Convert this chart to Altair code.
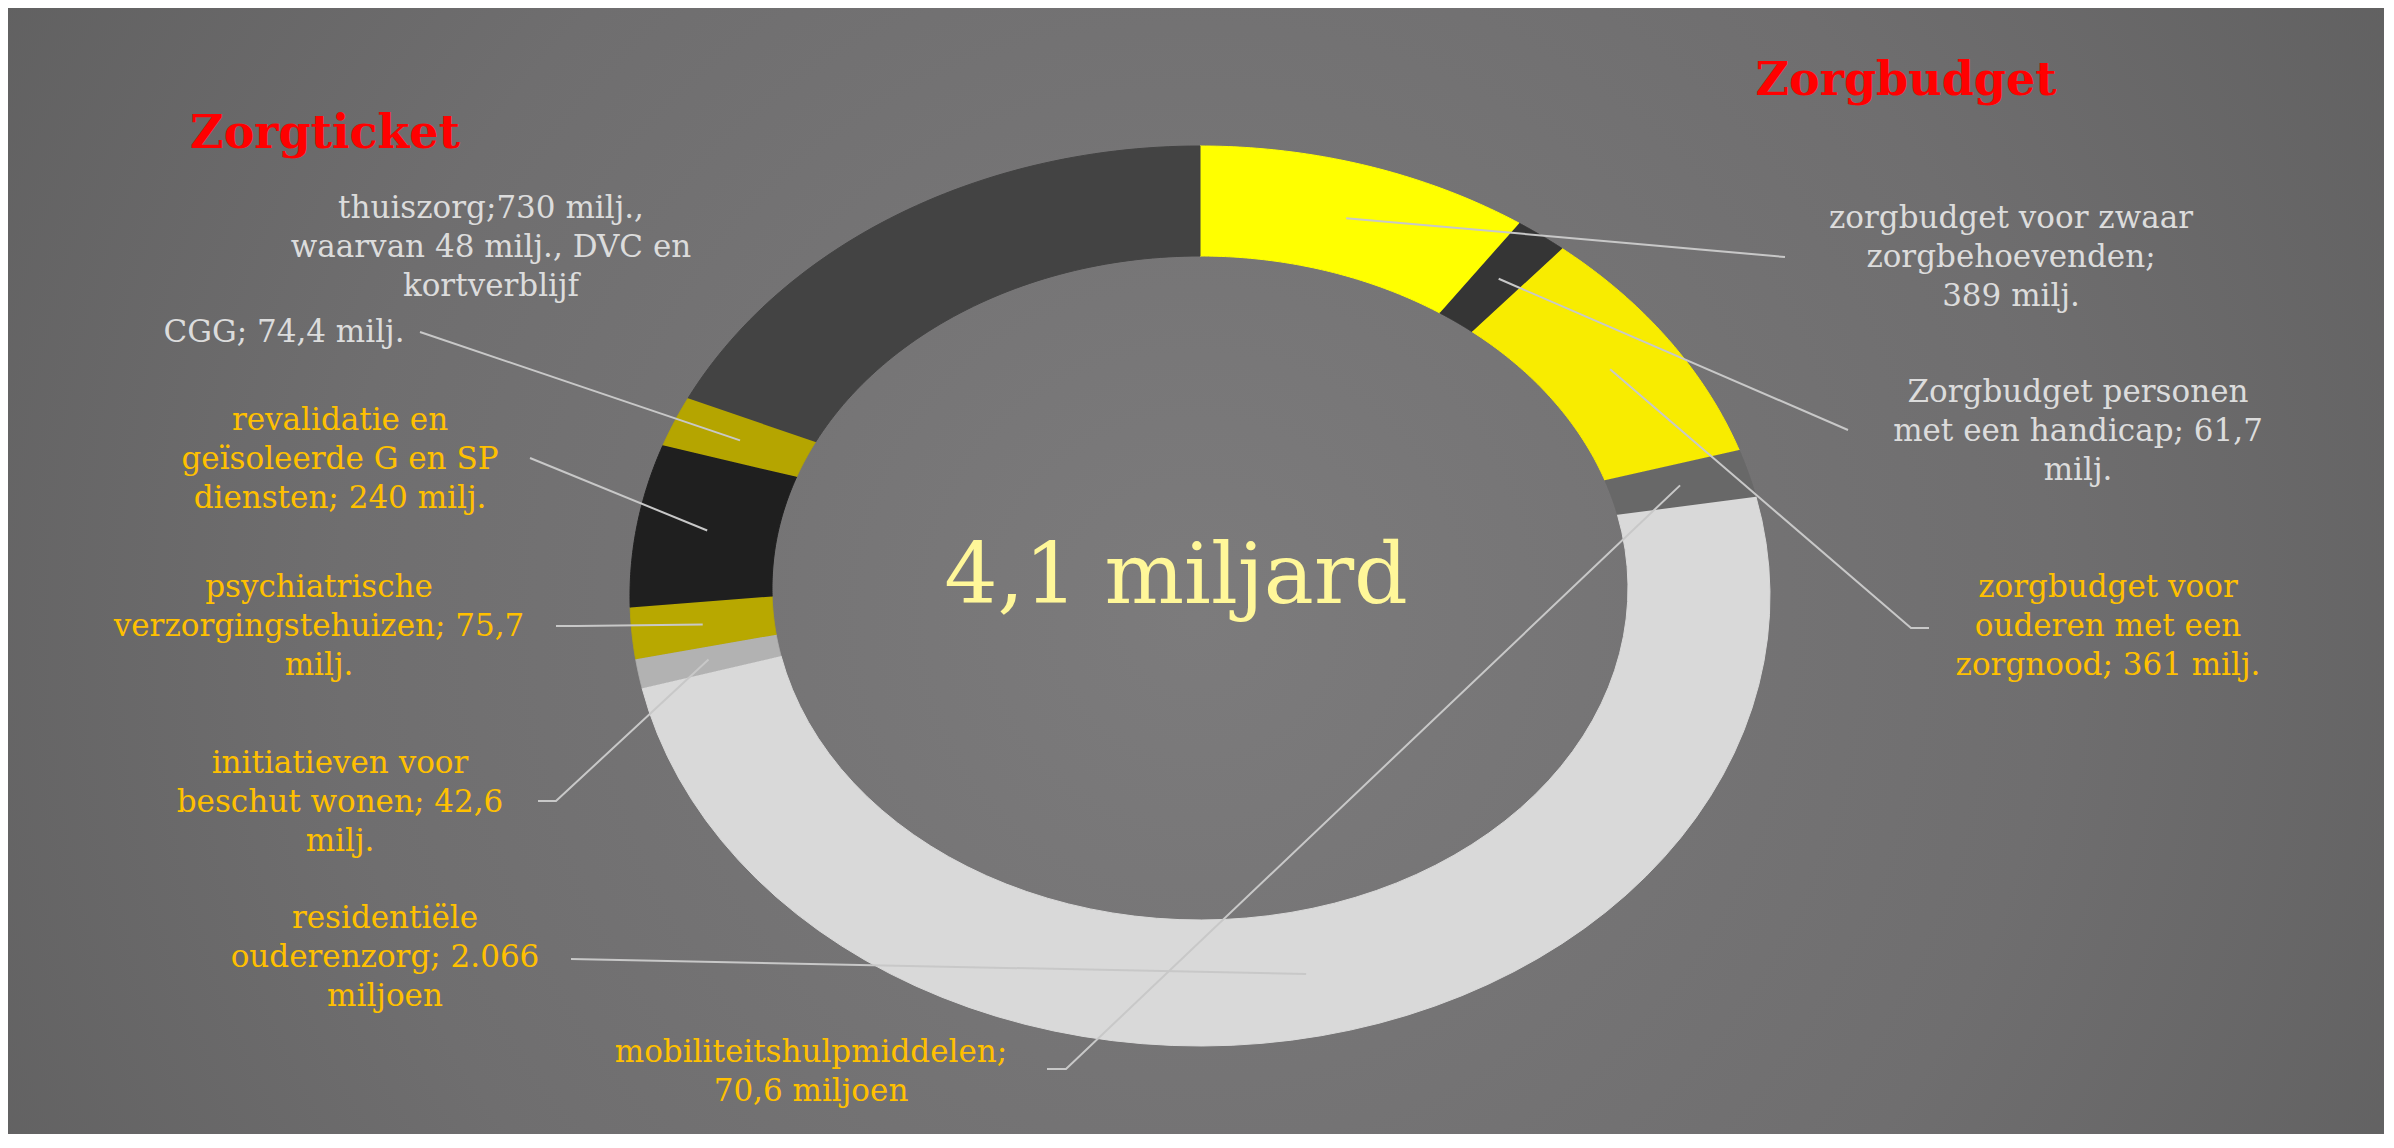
import altair as alt
import pandas as pd

# ---------------- data ----------------
CATEGORIES = ["zwaar", "handicap", "zorgnood", "mobiliteit", "residentieel",
              "beschut", "psychiatrisch", "revalidatie", "cgg", "thuiszorg"]
VALUES = [389, 61.7, 361, 70.6, 2066, 42.6, 75.7, 240, 74.4, 730]
LABELS = [
    "zorgbudget voor zwaar\nzorgbehoevenden;\n389 milj.",
    "Zorgbudget personen\nmet een handicap; 61,7\nmilj.",
    "zorgbudget voor\nouderen met een\nzorgnood; 361 milj.",
    "mobiliteitshulpmiddelen;\n70,6 miljoen",
    "residentiële\nouderenzorg; 2.066\nmiljoen",
    "initiatieven voor\nbeschut wonen; 42,6\nmilj.",
    "psychiatrische\nverzorgingstehuizen; 75,7\nmilj.",
    "revalidatie en\ngeïsoleerde G en SP\ndiensten; 240 milj.",
    "CGG; 74,4 milj.",
    "thuiszorg;730 milj.,\nwaarvan 48 milj., DVC en\nkortverblijf",
]
GROUP_TITLES = ["Zorgticket", "Zorgbudget"]

# ---------------- styles / layout ----------------
SEG_COLORS = ["#ffff00", "#353535", "#f8ec00", "#686868", "#d9d9d9",
              "#b2b2b2", "#b8a800", "#1f1f1f", "#b5a500", "#434343"]
GRAY_TXT = "#dcdcdc"
GOLD_TXT = "#ffc000"
LABEL_COLORS = [GRAY_TXT, GRAY_TXT, GOLD_TXT, GOLD_TXT, GOLD_TXT,
                GOLD_TXT, GOLD_TXT, GOLD_TXT, GRAY_TXT, GRAY_TXT]
LABEL_X = [2011, 2078, 2108, 811, 385, 340, 319, 340, 284, 491]
LABEL_Y = [228, 402, 597, 1062, 928, 773, 597, 430, 342, 218]
LEADER_X = [1785, 1848, 1929, 1047, 571, 538, 556, 530, 420, None]
LEADER_Y = [257, 430, 628, 1069, 959, 801, 626, 458, 332, None]
ELBOW_X = [1785, 1848, 1911, 1066, 571, 556, 577, 530, 420, None]
TITLE_X = [325, 1906]
TITLE_Y = [148, 95]

W, H = 2376, 1126
X0, Y0 = 8, 8
CX = 1200
CYO, RXO, RYO = 596, 570, 450   # outer edge of the ring
CYI, RXI, RYI = 588, 428, 332   # inner edge of the ring
CYM, RXM, RYM = 592, 499, 391   # middle of the ring (leader ends)
N = 60

df = pd.DataFrame({
    "cat": CATEGORIES, "value": VALUES, "order": list(range(len(VALUES))),
    "label": LABELS, "tcolor": LABEL_COLORS,
    "lab_x": LABEL_X, "lab_y": LABEL_Y,
    "lx": LEADER_X, "ly": LEADER_Y, "ex": ELBOW_X,
})
tdf = pd.DataFrame({"title": GROUP_TITLES, "tx": TITLE_X, "ty": TITLE_Y})

xs = alt.Scale(domain=[X0, X0 + W], nice=False, zero=False)
ys = alt.Scale(domain=[Y0, Y0 + H], nice=False, zero=False, reverse=True)
seg_scale = alt.Scale(domain=CATEGORIES, range=SEG_COLORS)

# background
bg = alt.Chart(pd.DataFrame({"z": [0]})).mark_rect(
    fill=alt.Gradient(
        gradient="radial",
        stops=[alt.GradientStop(offset=0, color="#7c7b7c"),
               alt.GradientStop(offset=0.5, color="#6f6e6f"),
               alt.GradientStop(offset=1, color="#575757")],
        x1=0.5, y1=0.52, r1=0, x2=0.5, y2=0.52, r2=0.72),
).encode(x=alt.value(0), x2=alt.value(W), y=alt.value(0), y2=alt.value(H))

base = alt.Chart(df).transform_window(
    cum="sum(value)", sort=[alt.SortField("order")], frame=[None, 0]
).transform_joinaggregate(total="sum(value)")

ring = base.transform_calculate(
    ks=f"sequence(0, {2 * N + 2})"
).transform_flatten(["ks"], as_=["k"]).transform_calculate(
    t=f"datum.k <= {N} ? datum.k / {N} : ({2 * N + 1} - datum.k) / {N}",
    outer=f"datum.k <= {N} ? 1 : 0",
).transform_calculate(
    theta="2 * PI * ((datum.cum - datum.value) + datum.t * datum.value) / datum.total"
).transform_calculate(
    px=f"{CX} + (datum.outer ? {RXO} : {RXI}) * sin(datum.theta)",
    py=f"datum.outer ? {CYO} - {RYO} * cos(datum.theta) : {CYI} - {RYI} * cos(datum.theta)",
).mark_line(strokeWidth=1, interpolate="linear").encode(
    x=alt.X("px:Q", scale=xs, axis=None),
    y=alt.Y("py:Q", scale=ys, axis=None),
    fill=alt.Fill("cat:N", scale=seg_scale, legend=None),
    stroke=alt.Stroke("cat:N", scale=seg_scale, legend=None),
    detail="cat:N",
    order=alt.Order("k:Q"),
)

leaders = base.transform_calculate(
    mtheta="2 * PI * (datum.cum - datum.value / 2) / datum.total"
).transform_filter("isValid(datum.lx)").transform_calculate(
    ks="sequence(0, 3)"
).transform_flatten(["ks"], as_=["k"]).transform_calculate(
    px=f"datum.k == 0 ? datum.lx : (datum.k == 1 ? datum.ex : {CX} + {RXM} * sin(datum.mtheta))",
    py=f"datum.k <= 1 ? datum.ly : {CYM} - {RYM} * cos(datum.mtheta)",
).mark_line(stroke="#c8c8c8", strokeWidth=2).encode(
    x=alt.X("px:Q", scale=xs, axis=None),
    y=alt.Y("py:Q", scale=ys, axis=None),
    detail="cat:N",
    order=alt.Order("k:Q"),
)

labels = alt.Chart(df).mark_text(
    font="DejaVu Serif", fontSize=31, lineBreak="\n", lineHeight=39,
    align="center", baseline="alphabetic",
).encode(
    x=alt.X("lab_x:Q", scale=xs, axis=None),
    y=alt.Y("lab_y:Q", scale=ys, axis=None),
    text="label:N",
    color=alt.Color("tcolor:N", scale=None, legend=None),
)

titles = alt.Chart(tdf).mark_text(
    font="DejaVu Serif", fontSize=46, fontWeight="bold", color="#ff0000",
    align="center", baseline="alphabetic",
).encode(
    x=alt.X("tx:Q", scale=xs, axis=None),
    y=alt.Y("ty:Q", scale=ys, axis=None),
    text="title:N",
)

center = alt.Chart(df).transform_aggregate(total="sum(value)").transform_calculate(
    txt="replace(format(datum.total / 1000, '.1f'), '.', ',') + ' miljard'",
    cx="1176", cy="603",
).mark_text(
    font="DejaVu Serif", fontSize=84, color="#fff799",
    align="center", baseline="alphabetic",
).encode(
    x=alt.X("cx:Q", scale=xs, axis=None),
    y=alt.Y("cy:Q", scale=ys, axis=None),
    text="txt:N",
)

chart = alt.layer(bg, ring, leaders, labels, titles, center).properties(
    width=W, height=H, padding=0
).configure_view(strokeWidth=0)

chart.save("out.html", embed_options={"renderer": "svg", "actions": False})
